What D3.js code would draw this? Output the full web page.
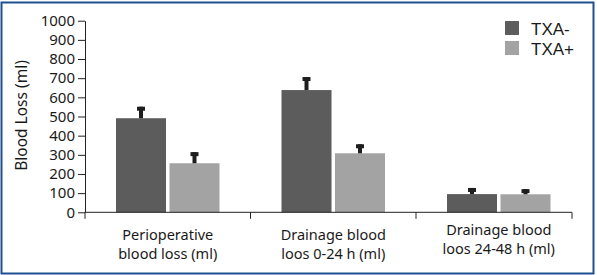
<!DOCTYPE html>
<html>
<head>
<meta charset="utf-8">
<script src="https://cdn.jsdelivr.net/npm/d3@7"></script>
<style>
  html, body { margin: 0; padding: 0; background: #fff; }
  svg { display: block; font-family: "Noto Sans", sans-serif; }
</style>
</head>
<body>
<svg id="chart" width="597" height="275"></svg>
<script>
// ---- data ----
const categories = [
  ["Perioperative", "blood loss (ml)"],
  ["Drainage blood", "loos 0-24 h (ml)"],
  ["Drainage blood", "loos 24-48 h (ml)"]
];
const series = ["TXA-", "TXA+"];
const txaMinus = [491, 638, 95];
const txaPlus = [256, 308, 94];
const errMinus = [60, 68, 32];
const errPlus = [58, 47, 27];
const yTicks = [0, 100, 200, 300, 400, 500, 600, 700, 800, 900, 1000];
const yTitle = "Blood Loss (ml)";

// ---- layout ----
const colors = { "TXA-": "#5c5c5c", "TXA+": "#a3a3a3" };
const ink = "#1a1a1a";
const svg = d3.select("#chart");

svg.append("rect")
  .attr("x", 1.5).attr("y", 2.5).attr("width", 592).attr("height", 271)
  .attr("fill", "#fff").attr("stroke", "#1f4f8f").attr("stroke-width", 2);

const catKeys = categories.map((c, i) => i);
const y = d3.scaleLinear().domain([0, 1000]).range([212.3, 20.7]);
const x = d3.scaleBand().domain(catKeys).range([85, 581.5]).paddingInner(0).paddingOuter(0);
const x1 = d3.scaleBand().domain(series).range([31, 134.5]).paddingInner(0.065);
const axisEnd = 572;

const rows = catKeys.map(i => ({
  i,
  vals: [
    { s: "TXA-", v: txaMinus[i], e: errMinus[i] },
    { s: "TXA+", v: txaPlus[i], e: errPlus[i] }
  ]
}));

const g = svg.append("g");
const groups = g.selectAll("g.grp").data(rows).join("g")
  .attr("class", "grp")
  .attr("transform", d => `translate(${x(d.i)},0)`);

groups.selectAll("rect.bar").data(d => d.vals).join("rect")
  .attr("class", "bar")
  .attr("x", d => x1(d.s))
  .attr("width", x1.bandwidth())
  .attr("y", d => y(d.v))
  .attr("height", d => y(0) - y(d.v))
  .attr("fill", d => colors[d.s]);

// error bars: stem + cap
groups.selectAll("rect.stem").data(d => d.vals).join("rect")
  .attr("class", "stem")
  .attr("x", d => x1(d.s) + x1.bandwidth() / 2 - 2)
  .attr("width", 4)
  .attr("y", d => y(d.v + d.e))
  .attr("height", d => y(d.v) - y(d.v + d.e))
  .attr("fill", "#1e1e1e");
groups.selectAll("rect.cap").data(d => d.vals).join("rect")
  .attr("class", "cap")
  .attr("x", d => x1(d.s) + x1.bandwidth() / 2 - 4)
  .attr("width", 8)
  .attr("y", d => y(d.v + d.e))
  .attr("height", 4)
  .attr("fill", "#1e1e1e");

// y axis
const yAxis = g.append("g")
  .attr("transform", "translate(85,0)")
  .call(d3.axisLeft(y).tickValues(yTicks).tickFormat(d3.format("d"))
    .tickSize(7).tickSizeOuter(0).tickPadding(3));
yAxis.selectAll("text").attr("font-size", 15).attr("font-family", "Noto Sans").attr("fill", ink);
yAxis.selectAll("line, path").attr("stroke", "#222");

// x axis
const xa = g.append("g");
xa.append("line").attr("x1", 85).attr("x2", axisEnd).attr("y1", y(0)).attr("y2", y(0))
  .attr("stroke", "#222");
const xTickPos = catKeys.map(i => x(i)).concat([axisEnd]);
xa.selectAll("line.tk").data(xTickPos).join("line")
  .attr("class", "tk")
  .attr("x1", d => d).attr("x2", d => d)
  .attr("y1", y(0)).attr("y2", y(0) + 6.5)
  .attr("stroke", "#222");

const labelBase = [240, 240, 235];
xa.selectAll("text.cat").data(rows).join("text")
  .attr("class", "cat")
  .attr("text-anchor", "middle")
  .attr("font-size", 14.5)
  .attr("fill", ink)
  .each(function(d) {
    const t = d3.select(this);
    categories[d.i].forEach((line, k) => {
      t.append("tspan")
        .attr("x", x(d.i) + x.bandwidth() / 2)
        .attr("y", labelBase[d.i] + k * 19)
        .text(line);
    });
  });

// y title
svg.append("text")
  .attr("transform", "translate(27,115.5) rotate(-90)")
  .attr("text-anchor", "middle")
  .attr("font-size", 15.5)
  .attr("fill", ink)
  .text(yTitle);

// legend
const lg = svg.append("g").selectAll("g").data(series).join("g")
  .attr("transform", (d, i) => `translate(505,${21 + i * 20})`);
lg.append("rect").attr("width", 14).attr("height", 14).attr("fill", d => colors[d]);
lg.append("text").attr("x", 26).attr("y", 13.5)
  .attr("font-family", "Liberation Sans").attr("font-size", 17)
  .attr("fill", ink).text(d => d);
</script>
</body>
</html>
